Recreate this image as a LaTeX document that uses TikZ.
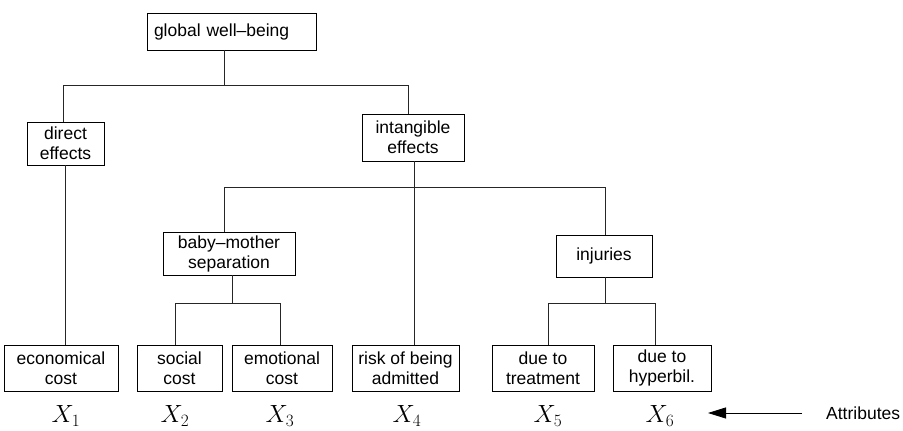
\documentclass[tikz,border=0pt]{standalone}
\usepackage{fontspec}
\setmainfont{Liberation Sans}
\usetikzlibrary{arrows.meta}
\begin{document}
\begin{tikzpicture}[x=1pt,y=1pt,
  box/.style={draw, line width=0.8pt, inner sep=0pt, align=center,
    font=\fontsize{17.5}{20}\selectfont},
  wire/.style={line width=0.8pt, draw=black!85},
  attr/.style={font=\fontsize{26}{28}\selectfont, inner sep=0pt}]
\useasboundingbox (0,0) rectangle (903,431);
% boxes
\node[box, minimum width=169, minimum height=37, text width=155, align=left] (g) at (231.5,399.5) {global well–being};
\node[box, minimum width=77, minimum height=43] (d) at (65.5,287.5) {direct\\effects};
\node[box, minimum width=102, minimum height=47] (i) at (413,293.5) {intangible\\effects};
\node[box, minimum width=132, minimum height=43] (b) at (229,177.5) {baby–mother\\separation};
\node[box, minimum width=96, minimum height=42] (inj) at (604,175) {injuries};
\node[box, minimum width=114, minimum height=46] (e1) at (61,63) {economical\\cost};
\node[box, minimum width=85, minimum height=46] (e2) at (179.5,63) {social\\cost};
\node[box, minimum width=100, minimum height=46] (e3) at (282,63) {emotional\\cost};
\node[box, minimum width=107, minimum height=46] (e4) at (405.5,63) {risk of being\\admitted};
\node[box, minimum width=102, minimum height=46] (e5) at (543,63) {due to\\treatment};
\node[box, minimum width=98, minimum height=46] (e6) at (662,63) {due to\\hyperbil.};
% junction coordinates
\coordinate (j1) at (224,346);
\coordinate (jd) at (63,346);
\coordinate (ji) at (408,346);
\coordinate (xd) at (65,0);
\coordinate (xi) at (414,0);
\coordinate (j2) at (224,244);
\coordinate (j2r) at (605,244);
\coordinate (xb) at (232,128);
\coordinate (xb1) at (175,128);
\coordinate (xb2) at (280,128);
\coordinate (xj) at (605,128);
\coordinate (xj1) at (548,128);
\coordinate (xj2) at (655,128);
% connectors
\draw[wire] (j1 |- g.south) -- (j1);
\draw[wire] (jd |- d.north) -- (jd) -- (ji) -- (ji |- i.north);
\draw[wire] (xd |- d.south) -- (xd |- e1.north);
\draw[wire] (xi |- i.south) -- (xi |- e4.north);
\draw[wire] (j2 |- b.north) -- (j2) -- (j2r) -- (j2r |- inj.north);
\draw[wire] (xb |- b.south) -- (xb);
\draw[wire] (xb1 |- e2.north) -- (xb1) -- (xb2) -- (xb2 |- e3.north);
\draw[wire] (xj |- inj.south) -- (xj);
\draw[wire] (xj1 |- e5.north) -- (xj1) -- (xj2) -- (xj2 |- e6.north);
% attribute labels
\node[attr] (x1) at (66,15) {$X_1$};
\node[attr] (x2) at (175,15) {$X_2$};
\node[attr] (x3) at (280,15) {$X_3$};
\node[attr] (x4) at (407,15) {$X_4$};
\node[attr] (x5) at (548,15) {$X_5$};
\node[attr] (x6) at (660,15) {$X_6$};
\node[anchor=west, inner sep=0pt, font=\fontsize{17.5}{20}\selectfont] (at) at (826,18) {Attributes};
\coordinate (tip) at (708,18);
\draw[line width=0.8pt, -{Triangle[length=18pt,width=11pt]}] (802,18) -- (tip);
\end{tikzpicture}
\end{document}
